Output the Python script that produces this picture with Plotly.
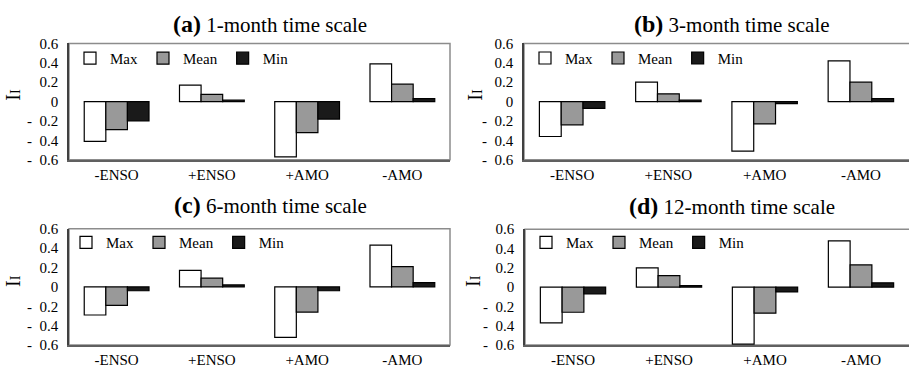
import plotly.graph_objects as go

# ---------------- data ----------------
categories = ["-ENSO", "+ENSO", "+AMO", "-AMO"]
series_names = ["Max", "Mean", "Min"]

panel_titles = ["1-month time scale", "3-month time scale", "6-month time scale", "12-month time scale"]
panel_letters = ["(a)", "(b)", "(c)", "(d)"]

a_max = [-0.41, 0.17, -0.57, 0.39]
a_mean = [-0.29, 0.075, -0.32, 0.18]
a_min = [-0.20, 0.015, -0.18, 0.03]

b_max = [-0.36, 0.20, -0.51, 0.42]
b_mean = [-0.24, 0.08, -0.23, 0.20]
b_min = [-0.07, 0.015, -0.02, 0.03]

c_max = [-0.29, 0.17, -0.52, 0.43]
c_mean = [-0.19, 0.09, -0.26, 0.21]
c_min = [-0.04, 0.02, -0.04, 0.045]

d_max = [-0.37, 0.20, -0.59, 0.48]
d_mean = [-0.26, 0.12, -0.27, 0.23]
d_min = [-0.07, 0.015, -0.05, 0.045]

y_tickvals = [-0.6, -0.4, -0.2, 0, 0.2, 0.4, 0.6]
y_ticktext = ["-\u20020.6", "-\u20020.4", "-\u20020.2", "0", "0.2", "0.4", "0.6"]
boundary_ticks = [0.5, 1.5, 2.5]

panels = [
    [a_max, a_mean, a_min],
    [b_max, b_mean, b_min],
    [c_max, c_mean, c_min],
    [d_max, d_mean, d_min],
]

# ---------------- styling ----------------
W, H = 909, 377
FONT = "Liberation Serif"
fills = ["#ffffff", "#999999", "#1a1a1a"]


def fx(px):
    return px / W


def fy(py):
    return 1 - py / H


# plot-area boxes in pixels: (left, right, top, bottom)
boxes = [
    (69, 450, 37, 158.5),
    (524, 909, 37, 158.5),
    (69, 450, 230.5, 352),
    (525, 909, 231, 352),
]
title_pos = [(270, 17), (732, 17), (270, 206), (732, 207)]
ylabel_pos = [(13, 90.5), (475, 90.5), (13, 285), (473, 285)]
legend_pos = [(70, 52.7), (525, 52.5), (66, 245), (526, 245)]

fig = go.Figure()
layout = dict(
    width=W, height=H,
    margin=dict(l=0, r=0, t=0, b=0),
    paper_bgcolor="white", plot_bgcolor="white",
    barmode="group", bargap=0.32, bargroupgap=0,
    showlegend=True,
    font=dict(family=FONT, size=15, color="black"),
)
annotations = []
shapes = []

for p in range(4):
    n = p + 1
    xa = "x" if n == 1 else f"x{n}"
    ya = "y" if n == 1 else f"y{n}"
    leg = "legend" if n == 1 else f"legend{n}"
    left, right, top, bottom = boxes[p]
    xdom = [fx(left), min(1.0, fx(right))]
    ydom = [fy(bottom), fy(top)]

    for s in range(3):
        fig.add_trace(go.Bar(
            x=categories, y=panels[p][s], name=series_names[s],
            xaxis=xa, yaxis=ya, legend=leg,
            marker=dict(color=fills[s], line=dict(color="black", width=1.2)),
            offsetgroup=str(s),
        ))

    layout["xaxis" if n == 1 else f"xaxis{n}"] = dict(
        domain=xdom, anchor=ya, type="category",
        range=[-0.5, 3.5],
        categoryorder="array", categoryarray=categories,
        showline=True, linecolor="#606060", linewidth=1.5,
        ticks="", showgrid=False, zeroline=False,
        tickfont=dict(family=FONT, size=15, color="black"),
        ticklabelstandoff=0,
    )
    layout["yaxis" if n == 1 else f"yaxis{n}"] = dict(
        domain=ydom, anchor=xa,
        range=[-0.6, 0.6],
        tickvals=y_tickvals, ticktext=y_ticktext,
        showline=True, linecolor="#404040", linewidth=1.5,
        ticks="", showgrid=False, zeroline=False,
        tickfont=dict(family=FONT, size=15, color="black"),
        ticklabelstandoff=6,
    )
    # overlay axis acting as the category axis crossing at zero
    on = n + 4
    layout[f"xaxis{on}"] = dict(
        overlaying=xa, anchor="free",
        position=(ydom[0] + ydom[1]) / 2,
        domain=xdom,
        range=[-0.5, 3.5], type="linear",
        tickvals=boundary_ticks, ticks="inside", ticklen=6,
        tickwidth=1.5, tickcolor="#404040",
        showticklabels=False,
        showline=True, linecolor="#808080", linewidth=1.5,
        showgrid=False, zeroline=False,
    )
    # plot-area border
    shapes.append(dict(
        type="rect", xref=f"{xa} domain", yref=f"{ya} domain",
        x0=0, x1=1 if n in (1, 3) else 1.02, y0=0, y1=1,
        line=dict(color="#8c8c8c", width=1.5), layer="below",
    ))

    layout[leg] = dict(
        orientation="h", x=fx(legend_pos[p][0]), y=fy(legend_pos[p][1]),
        xanchor="left", yanchor="middle",
        bgcolor="rgba(0,0,0,0)", borderwidth=0,
        font=dict(family=FONT, size=15, color="black"),
        traceorder="normal",
    )

    tx, ty = title_pos[p]
    annotations.append(dict(
        x=fx(tx), y=fy(ty), xref="paper", yref="paper",
        xanchor="center", yanchor="middle", showarrow=False,
        text=f"<span style='font-size:24px'><b>{panel_letters[p]}</b></span> {panel_titles[p]}",
        font=dict(family=FONT, size=21, color="black"),
    ))
    lx, ly = ylabel_pos[p]
    annotations.append(dict(
        x=fx(lx), y=fy(ly), xref="paper", yref="paper",
        xanchor="center", yanchor="middle", showarrow=False,
        textangle=-90,
        text="I<span style='font-size:14px'>I</span>",
        font=dict(family=FONT, size=20, color="black"),
    ))

layout["annotations"] = annotations
layout["shapes"] = shapes
fig.update_layout(**layout)

fig.write_html(
    "out.html",
    config={"displayModeBar": False},
    post_script="document.body.style.margin='0';document.body.style.overflow='hidden';",
)
